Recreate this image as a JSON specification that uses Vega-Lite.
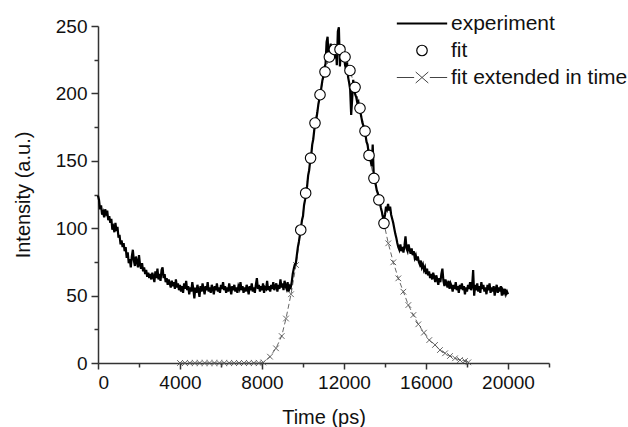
{
  "$schema": "https://vega.github.io/schema/vega-lite/v6.json",
  "width": 451,
  "height": 337,
  "autosize": {"type": "none"},
  "padding": {"left": 98, "top": 26, "right": 79, "bottom": 64},
  "background": "white",
  "config": {
    "view": {"stroke": null},
    "font": "Liberation Sans",
    "axis": {
      "grid": false,
      "domainColor": "#333333",
      "domainWidth": 1.5,
      "tickColor": "#333333",
      "tickWidth": 1.5,
      "labelFontSize": 19,
      "labelColor": "#111111",
      "labelPadding": 4,
      "titleFontSize": 20,
      "titleFontWeight": "normal",
      "titleColor": "#111111"
    },
    "legend": {"padding": 0}
  },
  "datasets": {
    "exp": [
      {"t":0,"I":124},{"t":50,"I":121},{"t":100,"I":114},{"t":150,"I":117},{"t":200,"I":110},{"t":250,"I":112},{"t":300,"I":108},{"t":350,"I":114},{"t":400,"I":111},{"t":450,"I":113},
      {"t":500,"I":106},{"t":550,"I":109},{"t":600,"I":104},{"t":650,"I":107},{"t":700,"I":99},{"t":750,"I":101},{"t":800,"I":97},{"t":850,"I":104},{"t":900,"I":98},{"t":950,"I":101},
      {"t":1000,"I":93},{"t":1050,"I":95},{"t":1100,"I":88},{"t":1150,"I":91},{"t":1200,"I":86},{"t":1250,"I":89},{"t":1300,"I":83},{"t":1350,"I":86},{"t":1400,"I":78},{"t":1450,"I":82},
      {"t":1500,"I":74},{"t":1550,"I":77},{"t":1600,"I":71},{"t":1650,"I":79},{"t":1700,"I":84},{"t":1750,"I":76},{"t":1800,"I":72},{"t":1850,"I":79},{"t":1900,"I":75},{"t":1950,"I":71},
      {"t":2000,"I":80},{"t":2050,"I":73},{"t":2100,"I":70},{"t":2150,"I":74},{"t":2200,"I":68},{"t":2250,"I":71},{"t":2300,"I":66},{"t":2350,"I":69},{"t":2400,"I":64},{"t":2450,"I":67},
      {"t":2500,"I":63},{"t":2550,"I":66},{"t":2600,"I":62},{"t":2650,"I":67},{"t":2700,"I":64},{"t":2750,"I":60},{"t":2800,"I":68},{"t":2850,"I":63},{"t":2900,"I":70},{"t":2950,"I":62},
      {"t":3000,"I":66},{"t":3050,"I":61},{"t":3100,"I":69},{"t":3150,"I":71},{"t":3200,"I":63},{"t":3250,"I":66},{"t":3300,"I":60},{"t":3350,"I":63},{"t":3400,"I":58},{"t":3450,"I":62},
      {"t":3500,"I":59},{"t":3550,"I":56},{"t":3600,"I":61},{"t":3650,"I":57},{"t":3700,"I":60},{"t":3750,"I":55},{"t":3800,"I":62},{"t":3850,"I":56},{"t":3900,"I":59},{"t":3950,"I":54},
      {"t":4000,"I":58},{"t":4050,"I":53},{"t":4100,"I":57},{"t":4150,"I":52},{"t":4200,"I":59},{"t":4250,"I":55},{"t":4300,"I":61},{"t":4350,"I":54},{"t":4400,"I":57},{"t":4450,"I":51},
      {"t":4500,"I":56},{"t":4550,"I":53},{"t":4600,"I":60},{"t":4650,"I":55},{"t":4700,"I":48},{"t":4750,"I":56},{"t":4800,"I":52},{"t":4850,"I":58},{"t":4900,"I":54},{"t":4950,"I":49},
      {"t":5000,"I":57},{"t":5050,"I":53},{"t":5100,"I":59},{"t":5150,"I":55},{"t":5200,"I":51},{"t":5250,"I":57},{"t":5300,"I":54},{"t":5350,"I":60},{"t":5400,"I":53},{"t":5450,"I":56},
      {"t":5500,"I":52},{"t":5550,"I":58},{"t":5600,"I":55},{"t":5650,"I":51},{"t":5700,"I":57},{"t":5750,"I":54},{"t":5800,"I":59},{"t":5850,"I":53},{"t":5900,"I":56},{"t":5950,"I":52},
      {"t":6000,"I":58},{"t":6050,"I":55},{"t":6100,"I":60},{"t":6150,"I":54},{"t":6200,"I":57},{"t":6250,"I":52},{"t":6300,"I":56},{"t":6350,"I":53},{"t":6400,"I":59},{"t":6450,"I":55},
      {"t":6500,"I":51},{"t":6550,"I":57},{"t":6600,"I":54},{"t":6650,"I":58},{"t":6700,"I":53},{"t":6750,"I":56},{"t":6800,"I":52},{"t":6850,"I":57},{"t":6900,"I":55},{"t":6950,"I":60},
      {"t":7000,"I":54},{"t":7050,"I":57},{"t":7100,"I":52},{"t":7150,"I":56},{"t":7200,"I":53},{"t":7250,"I":58},{"t":7300,"I":55},{"t":7350,"I":51},{"t":7400,"I":57},{"t":7450,"I":54},
      {"t":7500,"I":59},{"t":7550,"I":53},{"t":7600,"I":56},{"t":7650,"I":52},{"t":7700,"I":58},{"t":7750,"I":63},{"t":7800,"I":55},{"t":7850,"I":58},{"t":7900,"I":53},{"t":7950,"I":57},
      {"t":8000,"I":54},{"t":8050,"I":59},{"t":8100,"I":52},{"t":8150,"I":56},{"t":8200,"I":55},{"t":8250,"I":61},{"t":8300,"I":54},{"t":8350,"I":57},{"t":8400,"I":53},{"t":8450,"I":58},
      {"t":8500,"I":55},{"t":8550,"I":60},{"t":8600,"I":54},{"t":8650,"I":57},{"t":8700,"I":59},{"t":8750,"I":53},{"t":8800,"I":58},{"t":8850,"I":55},{"t":8900,"I":62},{"t":8950,"I":56},
      {"t":9000,"I":59},{"t":9050,"I":54},{"t":9100,"I":61},{"t":9150,"I":57},{"t":9200,"I":55},{"t":9250,"I":60},{"t":9300,"I":53},{"t":9350,"I":57},{"t":9400,"I":56},{"t":9450,"I":60},
      {"t":9500,"I":66},{"t":9550,"I":70},{"t":9600,"I":73},{"t":9650,"I":74},{"t":9700,"I":80},{"t":9750,"I":86},{"t":9800,"I":90},{"t":9850,"I":95},{"t":9900,"I":100},{"t":9950,"I":106},
      {"t":10000,"I":109},{"t":10050,"I":117},{"t":10100,"I":121},{"t":10150,"I":127},{"t":10200,"I":131},{"t":10250,"I":139},{"t":10300,"I":143},{"t":10350,"I":150},{"t":10400,"I":154},{"t":10450,"I":162},
      {"t":10500,"I":166},{"t":10550,"I":173},{"t":10600,"I":177},{"t":10650,"I":181},{"t":10700,"I":186},{"t":10750,"I":192},{"t":10800,"I":196},{"t":10850,"I":199},{"t":10900,"I":205},{"t":10950,"I":210},
      {"t":11000,"I":213},{"t":11050,"I":219},{"t":11100,"I":222},{"t":11150,"I":238},{"t":11200,"I":242},{"t":11250,"I":226},{"t":11300,"I":230},{"t":11350,"I":237},{"t":11400,"I":228},{"t":11450,"I":234},
      {"t":11500,"I":231},{"t":11550,"I":226},{"t":11600,"I":235},{"t":11650,"I":221},{"t":11700,"I":246},{"t":11750,"I":249},{"t":11800,"I":220},{"t":11850,"I":232},{"t":11900,"I":228},{"t":11950,"I":224},
      {"t":12000,"I":229},{"t":12050,"I":221},{"t":12100,"I":218},{"t":12150,"I":223},{"t":12200,"I":212},{"t":12250,"I":208},{"t":12300,"I":203},{"t":12350,"I":184},{"t":12400,"I":196},{"t":12450,"I":210},
      {"t":12500,"I":202},{"t":12550,"I":199},{"t":12600,"I":197},{"t":12650,"I":193},{"t":12700,"I":194},{"t":12750,"I":188},{"t":12800,"I":186},{"t":12850,"I":182},{"t":12900,"I":178},{"t":12950,"I":176},
      {"t":13000,"I":172},{"t":13050,"I":169},{"t":13100,"I":164},{"t":13150,"I":162},{"t":13200,"I":156},{"t":13250,"I":152},{"t":13300,"I":150},{"t":13350,"I":146},{"t":13400,"I":162},{"t":13450,"I":140},
      {"t":13500,"I":136},{"t":13550,"I":132},{"t":13600,"I":128},{"t":13650,"I":126},{"t":13700,"I":122},{"t":13750,"I":119},{"t":13800,"I":115},{"t":13850,"I":112},{"t":13900,"I":108},{"t":13950,"I":106},
      {"t":14000,"I":110},{"t":14050,"I":116},{"t":14100,"I":114},{"t":14150,"I":118},{"t":14200,"I":113},{"t":14250,"I":116},{"t":14300,"I":110},{"t":14350,"I":107},{"t":14400,"I":104},{"t":14450,"I":100},
      {"t":14500,"I":96},{"t":14550,"I":93},{"t":14600,"I":89},{"t":14650,"I":86},{"t":14700,"I":84},{"t":14750,"I":88},{"t":14800,"I":83},{"t":14850,"I":86},{"t":14900,"I":82},{"t":14950,"I":87},
      {"t":15000,"I":94},{"t":15050,"I":85},{"t":15100,"I":83},{"t":15150,"I":88},{"t":15200,"I":84},{"t":15250,"I":81},{"t":15300,"I":85},{"t":15350,"I":80},{"t":15400,"I":83},{"t":15450,"I":78},
      {"t":15500,"I":80},{"t":15550,"I":76},{"t":15600,"I":79},{"t":15650,"I":75},{"t":15700,"I":73},{"t":15750,"I":76},{"t":15800,"I":71},{"t":15850,"I":73},{"t":15900,"I":69},{"t":15950,"I":71},
      {"t":16000,"I":66},{"t":16050,"I":70},{"t":16100,"I":65},{"t":16150,"I":68},{"t":16200,"I":63},{"t":16250,"I":66},{"t":16300,"I":62},{"t":16350,"I":67},{"t":16400,"I":64},{"t":16450,"I":60},
      {"t":16500,"I":65},{"t":16550,"I":62},{"t":16600,"I":58},{"t":16650,"I":63},{"t":16700,"I":60},{"t":16750,"I":66},{"t":16800,"I":70},{"t":16850,"I":61},{"t":16900,"I":57},{"t":16950,"I":62},
      {"t":17000,"I":59},{"t":17050,"I":56},{"t":17100,"I":61},{"t":17150,"I":55},{"t":17200,"I":59},{"t":17250,"I":57},{"t":17300,"I":53},{"t":17350,"I":58},{"t":17400,"I":55},{"t":17450,"I":60},
      {"t":17500,"I":54},{"t":17550,"I":57},{"t":17600,"I":52},{"t":17650,"I":58},{"t":17700,"I":55},{"t":17750,"I":59},{"t":17800,"I":54},{"t":17850,"I":57},{"t":17900,"I":51},{"t":17950,"I":56},
      {"t":18000,"I":53},{"t":18050,"I":58},{"t":18100,"I":55},{"t":18150,"I":60},{"t":18200,"I":54},{"t":18250,"I":57},{"t":18300,"I":69},{"t":18350,"I":50},{"t":18400,"I":58},{"t":18450,"I":54},
      {"t":18500,"I":59},{"t":18550,"I":53},{"t":18600,"I":57},{"t":18650,"I":52},{"t":18700,"I":60},{"t":18750,"I":55},{"t":18800,"I":58},{"t":18850,"I":53},{"t":18900,"I":56},{"t":18950,"I":51},
      {"t":19000,"I":58},{"t":19050,"I":54},{"t":19100,"I":59},{"t":19150,"I":52},{"t":19200,"I":56},{"t":19250,"I":53},{"t":19300,"I":57},{"t":19350,"I":50},{"t":19400,"I":55},{"t":19450,"I":58},
      {"t":19500,"I":52},{"t":19550,"I":56},{"t":19600,"I":53},{"t":19650,"I":57},{"t":19700,"I":50},{"t":19750,"I":54},{"t":19800,"I":52},{"t":19850,"I":55},{"t":19900,"I":51},{"t":19950,"I":53},
      {"t":20000,"I":51}
    ],
    "fit": [
      {"t":9890,"I":98.7},{"t":10130,"I":126},{"t":10370,"I":152},{"t":10585,"I":178},{"t":10830,"I":199},{"t":11073,"I":216},{"t":11285,"I":227},{"t":11530,"I":232.6},{"t":11805,"I":232.6},
      {"t":12050,"I":227},{"t":12290,"I":217},{"t":12540,"I":204.5},{"t":12780,"I":189},{"t":13025,"I":172},{"t":13220,"I":154},{"t":13460,"I":137},{"t":13700,"I":121},{"t":13950,"I":103.6}
    ],
    "ext": [
      {"t":4000,"I":0},{"t":4240,"I":0},{"t":4480,"I":0},{"t":4720,"I":0},{"t":4960,"I":0},{"t":5200,"I":0},{"t":5440,"I":0},{"t":5680,"I":0},{"t":5920,"I":0},{"t":6160,"I":0},
      {"t":6400,"I":0},{"t":6640,"I":0},{"t":6880,"I":0},{"t":7120,"I":0},{"t":7360,"I":0},{"t":7600,"I":0},{"t":7840,"I":0},{"t":8065,"I":0.4},{"t":8390,"I":4.7},{"t":8683,"I":10.9},
      {"t":8960,"I":20},{"t":9170,"I":33},{"t":9415,"I":51},{"t":9660,"I":72.7},
      {"t":9890,"I":98.7},{"t":10130,"I":126},{"t":10370,"I":152},{"t":10585,"I":178},{"t":10830,"I":199},{"t":11073,"I":216},{"t":11285,"I":227},{"t":11530,"I":232.6},{"t":11805,"I":232.6},
      {"t":12050,"I":227},{"t":12290,"I":217},{"t":12540,"I":204.5},{"t":12780,"I":189},{"t":13025,"I":172},{"t":13220,"I":154},{"t":13460,"I":137},{"t":13700,"I":121},{"t":13950,"I":103.6},
      {"t":14160,"I":88.8},{"t":14405,"I":74.7},{"t":14650,"I":62.8},{"t":14895,"I":52.9},{"t":15140,"I":43},{"t":15385,"I":35.6},{"t":15625,"I":28.7},{"t":15900,"I":22.5},{"t":16160,"I":17},
      {"t":16440,"I":13.4},{"t":16680,"I":9.6},{"t":16930,"I":7.2},{"t":17170,"I":5.2},{"t":17415,"I":3.5},{"t":17660,"I":2.2},{"t":17900,"I":1.5},{"t":18065,"I":0.5}
    ]
  },
  "encoding": {
    "x": {
      "field": "t", "type": "quantitative",
      "scale": {"domain": [0, 22000], "nice": false, "zero": false},
      "axis": {
        "title": "Time (ps)",
        "titlePadding": 15,
        "values": [0,2000,4000,6000,8000,10000,12000,14000,16000,18000,20000,22000],
        "labelExpr": "datum.value % 4000 === 0 && datum.value <= 20000 ? datum.value : ''",
        "tickSize": {"condition": {"test": "datum.value % 4000 === 0 && datum.value <= 20000", "value": 6}, "value": 4}
      }
    },
    "y": {
      "field": "I", "type": "quantitative",
      "scale": {"domain": [0, 250], "nice": false},
      "axis": {
        "title": "Intensity (a.u.)",
        "titlePadding": 22,
        "values": [0,25,50,75,100,125,150,175,200,225,250],
        "labelExpr": "datum.value % 50 === 0 ? datum.value : ''",
        "tickSize": {"condition": {"test": "datum.value % 50 === 0", "value": 7}, "value": 4}
      }
    }
  },
  "layer": [
    {
      "data": {"name": "ext"},
      "mark": {"type": "line", "color": "#555555", "strokeWidth": 0.9, "strokeDash": [5, 3]}
    },
    {
      "data": {"name": "ext"},
      "mark": {"type": "point", "shape": "M-1,-1L1,1M1,-1L-1,1", "size": 32, "filled": false, "stroke": "#555555", "strokeWidth": 0.9, "opacity": 1}
    },
    {
      "data": {"name": "exp"},
      "mark": {"type": "line", "color": "#000000", "strokeWidth": 2.2}
    },
    {
      "data": {"name": "fit"},
      "mark": {"type": "point", "shape": "circle", "size": 110, "filled": true, "fill": "white", "stroke": "black", "strokeWidth": 1.1, "opacity": 1}
    },
    {
      "data": {"name": "fit"},
      "transform": [{"filter": "false"}],
      "mark": {"type": "point", "filled": false, "size": 110, "opacity": 1},
      "encoding": {
        "color": {
          "field": "series", "type": "nominal",
          "scale": {"domain": ["experiment", "fit", "fit extended in time"], "range": ["#000000", "#000000", "#444444"]},
          "legend": {
            "title": null,
            "orient": "none",
            "legendX": 313.5,
            "legendY": -13,
            "labelFontSize": 21,
            "labelColor": "#111111",
            "labelLimit": 0,
            "symbolSize": 110,
            "labelOffset": 18.5,
            "rowPadding": 5,
            "symbolOffset": 0,
            "padding": 0
          }
        },
        "shape": {
          "field": "series", "type": "nominal",
          "scale": {"domain": ["experiment", "fit", "fit extended in time"], "range": ["M-4.8,0L4.8,0", "circle", "M-4.8,0L-1.5,0M1.5,0L4.8,0M-1.2,-1.05L1.2,1.05M1.2,-1.05L-1.2,1.05"]}
        },
        "strokeWidth": {
          "field": "series", "type": "nominal",
          "scale": {"type": "ordinal", "domain": ["experiment", "fit", "fit extended in time"], "range": [2.2, 1.2, 1]}
        }
      }
    }
  ]
}
